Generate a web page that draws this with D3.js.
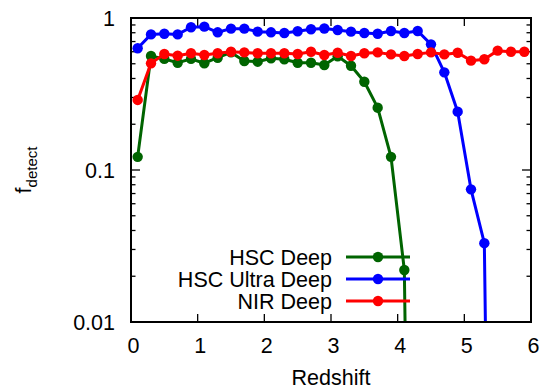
<!DOCTYPE html>
<html>
<head>
<meta charset="utf-8">
<script src="https://cdn.jsdelivr.net/npm/d3@7/dist/d3.min.js"></script>
<style>
  html, body { margin: 0; padding: 0; background: #fff; }
  svg { display: block; }
  text { font-family: "Liberation Sans", Arial, Helvetica, sans-serif; fill: #000; }
</style>
</head>
<body>
<svg id="chart" width="540" height="390"></svg>
<script>
// Redshift bin centres
const redshift = [0.1, 0.3, 0.5, 0.7, 0.9, 1.1, 1.3, 1.5, 1.7, 1.9,
                  2.1, 2.3, 2.5, 2.7, 2.9, 3.1, 3.3, 3.5, 3.7, 3.9,
                  4.1, 4.3, 4.5, 4.7, 4.9, 5.1, 5.3, 5.5, 5.7, 5.9];

// Detected fraction per survey
const hscDeep = [0.122, 0.562, 0.538, 0.508, 0.538, 0.504, 0.548, 0.594, 0.521, 0.516,
                 0.543, 0.535, 0.508, 0.508, 0.491, 0.560, 0.485, 0.381, 0.257, 0.122,
                 0.022, 0, 0, 0, 0, 0, 0, 0, 0, 0];
const hscUltraDeep = [0.632, 0.780, 0.788, 0.780, 0.869, 0.877, 0.805, 0.851, 0.851, 0.813,
                      0.805, 0.797, 0.818, 0.843, 0.853, 0.834, 0.813, 0.797, 0.788, 0.821,
                      0.797, 0.821, 0.671, 0.439, 0.242, 0.0746, 0.033, 0, 0, 0];
const nirDeep = [0.289, 0.503, 0.580, 0.565, 0.586, 0.571, 0.586, 0.600, 0.594, 0.586,
                 0.586, 0.586, 0.580, 0.600, 0.571, 0.591, 0.562, 0.586, 0.594, 0.576,
                 0.562, 0.580, 0.594, 0.576, 0.591, 0.524, 0.535, 0.610, 0.600, 0.600];

const seriesNames = ["HSC Deep", "HSC Ultra Deep", "NIR Deep"];
const seriesColors = ["#006400", "#0000ff", "#ff0000"];

const xTicks = [0, 1, 2, 3, 4, 5, 6];
const yMajor = [0.01, 0.1, 1];
const yLabels = ["0.01", "0.1", "1"];

const series = [hscDeep, hscUltraDeep, nirDeep].map((vals, i) => ({
  name: seriesNames[i],
  color: seriesColors[i],
  points: redshift.map((z, j) => ({ z, f: vals[j] }))
}));

const L = 131, R = 531, T = 18, B = 322;
const fs = 21.5;

const svg = d3.select("#chart");
const x = d3.scaleLinear().domain([0, 6]).range([L, R]);
const y = d3.scaleLog().domain([0.01, 1]).range([B, T]);

svg.append("defs").append("clipPath").attr("id", "plotClip")
  .append("rect").attr("x", L).attr("y", T).attr("width", R - L).attr("height", B - T);

// minor log ticks
const yMinor = [];
[0.01, 0.1].forEach(d => { for (let k = 2; k <= 9; k++) yMinor.push(+(d * k).toPrecision(3)); });

const ticks = svg.append("g").attr("stroke", "#000").attr("stroke-width", 1.3);
yMajor.forEach(v => {
  ticks.append("line").attr("x1", L).attr("x2", L + 9).attr("y1", y(v)).attr("y2", y(v));
  ticks.append("line").attr("x1", R).attr("x2", R - 9).attr("y1", y(v)).attr("y2", y(v));
});
yMinor.forEach(v => {
  ticks.append("line").attr("x1", L).attr("x2", L + 4.5).attr("y1", y(v)).attr("y2", y(v));
  ticks.append("line").attr("x1", R).attr("x2", R - 4.5).attr("y1", y(v)).attr("y2", y(v));
});
xTicks.slice(1, -1).forEach(v => {
  ticks.append("line").attr("x1", x(v)).attr("x2", x(v)).attr("y1", B).attr("y2", B - 8);
  ticks.append("line").attr("x1", x(v)).attr("x2", x(v)).attr("y1", T).attr("y2", T + 8);
});

function label(px, py, str, anchor, size) {
  return svg.append("text")
    .attr("x", px).attr("y", py)
    .attr("text-anchor", anchor)
    .attr("font-size", size || fs)
    .text(str);
}

yMajor.forEach((v, i) => label(115, y(v) + 7.5, yLabels[i], "end"));
xTicks.forEach(v => label(x(v) + 2.5, 353, String(v), "middle"));
label((L + R) / 2, 385, "Redshift", "middle");

// rotated y label with subscript
const yl = svg.append("text")
  .attr("transform", "translate(31,170) rotate(-90)")
  .attr("text-anchor", "middle")
  .attr("font-size", fs);
yl.append("tspan").text("f");
yl.append("tspan").attr("font-size", 15).attr("dy", 6).text("detect");

// data lines and markers
const floor = 1e-8;
const line = d3.line().x(d => x(d.z)).y(d => y(Math.max(d.f, floor)));
const plot = svg.append("g").attr("clip-path", "url(#plotClip)");

// legend rows
const legY = [257, 279, 301];

series.forEach((s, i) => {
  plot.append("path").datum(s.points)
    .attr("fill", "none").attr("stroke", s.color).attr("stroke-width", 3)
    .attr("stroke-linejoin", "round").attr("d", line);
  plot.selectAll(null).data(s.points.filter(d => d.f >= 0.01)).enter()
    .append("circle").attr("cx", d => x(d.z)).attr("cy", d => y(d.f))
    .attr("r", 5.2).attr("fill", s.color);

  label(332, legY[i] + 7.5, s.name, "end");
  svg.append("line").attr("x1", 346).attr("x2", 410).attr("y1", legY[i]).attr("y2", legY[i])
    .attr("stroke", s.color).attr("stroke-width", 3);
  svg.append("circle").attr("cx", 378).attr("cy", legY[i]).attr("r", 5.2).attr("fill", s.color);
});

// frame
svg.append("rect").attr("x", L).attr("y", T).attr("width", R - L).attr("height", B - T)
  .attr("fill", "none").attr("stroke", "#000").attr("stroke-width", 2);
</script>
</body>
</html>
